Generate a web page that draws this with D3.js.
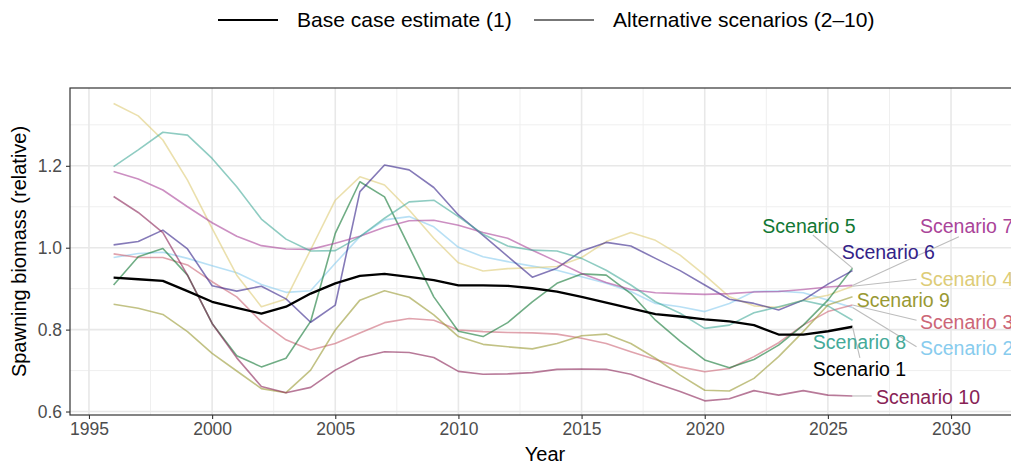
<!DOCTYPE html>
<html>
<head>
<meta charset="utf-8">
<script src="https://cdn.jsdelivr.net/npm/d3@7"></script>
<style>
  body { margin: 0; background: #fff; }
  svg { font-family: "Liberation Sans", Arial, sans-serif; }
</style>
</head>
<body>
<svg width="1011" height="467"></svg>
<script>
// years and the ten scenario runs (relative spawning biomass)
var years = [1996, 1997, 1998, 1999, 2000, 2001, 2002, 2003, 2004, 2005, 2006, 2007, 2008, 2009, 2010,
  2011, 2012, 2013, 2014, 2015, 2016, 2017, 2018, 2019, 2020, 2021, 2022, 2023, 2024, 2025, 2026];

var scen1 = [0.927, 0.923, 0.919, 0.894, 0.868, 0.853, 0.839, 0.856, 0.888, 0.913, 0.931, 0.936, 0.929, 0.921, 0.908,
  0.908, 0.907, 0.901, 0.893, 0.880, 0.866, 0.852, 0.838, 0.832, 0.825, 0.820, 0.811, 0.788, 0.788, 0.796, 0.807];
var scen2 = [0.976, 0.986, 0.989, 0.974, 0.956, 0.939, 0.910, 0.891, 0.895, 0.962, 1.027, 1.068, 1.076, 1.051, 1.001,
  0.978, 0.966, 0.955, 0.945, 0.929, 0.913, 0.893, 0.864, 0.856, 0.844, 0.864, 0.893, 0.894, 0.890, 0.872, 0.854];
var scen3 = [0.985, 0.976, 0.976, 0.958, 0.917, 0.880, 0.819, 0.775, 0.750, 0.766, 0.792, 0.817, 0.827, 0.823, 0.799,
  0.795, 0.793, 0.792, 0.789, 0.779, 0.766, 0.746, 0.727, 0.709, 0.697, 0.705, 0.734, 0.768, 0.811, 0.844, 0.860];
var scen4 = [1.352, 1.322, 1.263, 1.165, 1.047, 0.933, 0.856, 0.875, 0.995, 1.116, 1.173, 1.153, 1.092, 1.023, 0.963,
  0.943, 0.949, 0.951, 0.954, 0.976, 1.015, 1.037, 1.018, 0.982, 0.933, 0.880, 0.858, 0.854, 0.872, 0.884, 0.906];
var scen5 = [0.909, 0.978, 0.998, 0.933, 0.815, 0.736, 0.709, 0.730, 0.820, 1.035, 1.161, 1.124, 1.002, 0.880, 0.796,
  0.783, 0.817, 0.868, 0.913, 0.936, 0.933, 0.888, 0.823, 0.772, 0.726, 0.707, 0.727, 0.762, 0.811, 0.872, 0.950];
var scen6 = [1.007, 1.015, 1.043, 0.997, 0.907, 0.894, 0.906, 0.875, 0.818, 0.860, 1.137, 1.202, 1.190, 1.147, 1.080,
  1.030, 0.979, 0.928, 0.950, 0.992, 1.013, 1.004, 0.974, 0.944, 0.909, 0.874, 0.864, 0.848, 0.872, 0.911, 0.944];
var scen7 = [1.186, 1.168, 1.141, 1.100, 1.061, 1.028, 1.005, 0.997, 0.996, 1.011, 1.028, 1.050, 1.066, 1.067, 1.055,
  1.037, 1.023, 0.994, 0.966, 0.937, 0.915, 0.898, 0.890, 0.888, 0.886, 0.888, 0.892, 0.893, 0.898, 0.904, 0.908];
var scen8 = [1.198, 1.239, 1.282, 1.275, 1.218, 1.149, 1.070, 1.021, 0.992, 0.993, 1.027, 1.072, 1.112, 1.116, 1.076,
  1.033, 1.004, 0.994, 0.992, 0.974, 0.945, 0.909, 0.868, 0.840, 0.803, 0.811, 0.841, 0.856, 0.871, 0.858, 0.823];
var scen9 = [0.862, 0.852, 0.837, 0.795, 0.742, 0.699, 0.656, 0.646, 0.701, 0.799, 0.872, 0.895, 0.879, 0.836, 0.783,
  0.764, 0.758, 0.753, 0.766, 0.785, 0.789, 0.766, 0.730, 0.689, 0.652, 0.650, 0.681, 0.734, 0.795, 0.860, 0.880];
var scen10 = [1.125, 1.086, 1.037, 0.933, 0.815, 0.731, 0.661, 0.646, 0.659, 0.701, 0.732, 0.746, 0.744, 0.732, 0.698,
  0.691, 0.692, 0.695, 0.703, 0.704, 0.703, 0.691, 0.669, 0.649, 0.626, 0.631, 0.651, 0.640, 0.651, 0.640, 0.638];

var names = ['Scenario 1', 'Scenario 2', 'Scenario 3', 'Scenario 4', 'Scenario 5',
  'Scenario 6', 'Scenario 7', 'Scenario 8', 'Scenario 9', 'Scenario 10'];
var colours = ['#000000', '#88CCEE', '#CC6677', '#DDCC77', '#117733',
  '#332288', '#AA4499', '#44AA99', '#999933', '#882255'];
var allValues = [scen1, scen2, scen3, scen4, scen5, scen6, scen7, scen8, scen9, scen10];

// repelled label spots (year, value) and where the leader line stops
var labelYear = [2024.39, 2028.74, 2028.74, 2028.74, 2024.23, 2025.56, 2028.74, 2024.39, 2026.17, 2026.95];
var labelValue = [0.703, 0.754, 0.819, 0.924, 1.053, 0.988, 1.053, 0.770, 0.872, 0.636];
var labelAnchor = ['start', 'start', 'start', 'start', 'middle', 'start', 'start', 'start', 'start', 'start'];
var leaderYear = [2026.3, 2028.6, 2028.6, 2028.6, 2024.39, null, 2030.32, null, null, 2026.78];
var leaderValue = [0.731, 0.758, 0.823, 0.923, 1.031, null, 1.027, null, null, 0.638];

var xTicks = [1995, 2000, 2005, 2010, 2015, 2020, 2025, 2030];
var yTicks = [0.6, 0.8, 1.0, 1.2];

var svg = d3.select('svg');
var pLeft = 70, pTop = 88, pRight = 1020, pBottom = 415;

var x = d3.scaleLinear().domain([1994.23, 2032.8]).range([pLeft, pRight]);
var y = d3.scaleLinear().domain([0.5915, 1.390]).range([pBottom, pTop]);

// grid
var grid = svg.append('g');
var minorX = [1997.5, 2002.5, 2007.5, 2012.5, 2017.5, 2022.5, 2027.5, 2032.5];
var minorY = [0.7, 0.9, 1.1, 1.3];
grid.selectAll('.mx').data(minorX).enter().append('line')
  .attr('x1', function(d) { return x(d); }).attr('x2', function(d) { return x(d); })
  .attr('y1', pTop).attr('y2', pBottom)
  .attr('stroke', '#efefef').attr('stroke-width', 1);
grid.selectAll('.my').data(minorY).enter().append('line')
  .attr('y1', function(d) { return y(d); }).attr('y2', function(d) { return y(d); })
  .attr('x1', pLeft).attr('x2', pRight)
  .attr('stroke', '#efefef').attr('stroke-width', 1);
grid.selectAll('.gx').data(xTicks).enter().append('line')
  .attr('x1', function(d) { return x(d); }).attr('x2', function(d) { return x(d); })
  .attr('y1', pTop).attr('y2', pBottom)
  .attr('stroke', '#e8e8e8').attr('stroke-width', 1.6);
grid.selectAll('.gy').data(yTicks).enter().append('line')
  .attr('y1', function(d) { return y(d); }).attr('y2', function(d) { return y(d); })
  .attr('x1', pLeft).attr('x2', pRight)
  .attr('stroke', '#e8e8e8').attr('stroke-width', 1.6);

// lines
var line = d3.line()
  .x(function(d) { return x(d[0]); })
  .y(function(d) { return y(d[1]); });

var order = [1, 2, 3, 4, 5, 6, 7, 8, 9, 0];
svg.append('g').selectAll('path').data(order).enter().append('path')
  .attr('d', function(i) { return line(years.map(function(yr, j) { return [yr, allValues[i][j]]; })); })
  .attr('fill', 'none')
  .attr('stroke', function(i) { return colours[i]; })
  .attr('stroke-width', function(i) { return i === 0 ? 2.3 : 1.6; })
  .attr('stroke-opacity', function(i) { return i === 0 ? 1 : 0.6; })
  .attr('stroke-linejoin', 'round');

// leader segments
var last = years.length - 1;
svg.append('g').selectAll('line').data(d3.range(10).filter(function(i) { return leaderYear[i] !== null; }))
  .enter().append('line')
  .attr('x1', function(i) { return x(years[last]); })
  .attr('y1', function(i) { return y(allValues[i][last]); })
  .attr('x2', function(i) { return x(leaderYear[i]); })
  .attr('y2', function(i) { return y(leaderValue[i]); })
  .attr('stroke', '#bdbdbd').attr('stroke-width', 1.1);

// labels
svg.append('g').selectAll('text').data(d3.range(10)).enter().append('text')
  .attr('x', function(i) { return x(labelYear[i]); })
  .attr('y', function(i) { return y(labelValue[i]); })
  .attr('dy', '0.35em')
  .attr('text-anchor', function(i) { return labelAnchor[i]; })
  .attr('fill', function(i) { return colours[i]; })
  .style('font-size', '19.5px')
  .text(function(i) { return names[i]; });

// panel border
svg.append('rect')
  .attr('x', pLeft).attr('y', pTop)
  .attr('width', pRight - pLeft).attr('height', pBottom - pTop)
  .attr('fill', 'none').attr('stroke', '#333').attr('stroke-width', 1.2);

// axes
var xAxis = svg.append('g').attr('transform', 'translate(0,' + pBottom + ')')
  .call(d3.axisBottom(x).tickValues(xTicks).tickFormat(d3.format('d')).tickSize(4).tickPadding(4));
var yAxis = svg.append('g').attr('transform', 'translate(' + pLeft + ',0)')
  .call(d3.axisLeft(y).tickValues(yTicks).tickFormat(d3.format('.1f')).tickSize(4).tickPadding(4));
[xAxis, yAxis].forEach(function(a) {
  a.select('.domain').remove();
  a.selectAll('.tick line').attr('stroke', '#333').attr('stroke-width', 1.1);
  a.selectAll('.tick text').attr('fill', '#4d4d4d')
    .style('font-size', '17.5px').style('font-family', '"Liberation Sans", Arial, sans-serif');
});

// axis titles
svg.append('text')
  .attr('x', (pLeft + pRight) / 2).attr('y', 461)
  .attr('text-anchor', 'middle')
  .style('font-size', '20px')
  .text('Year');
svg.append('text')
  .attr('transform', 'translate(26,' + ((pTop + pBottom) / 2) + ') rotate(-90)')
  .attr('text-anchor', 'middle')
  .style('font-size', '20px')
  .text('Spawning biomass (relative)');

// legend
var legend = svg.append('g');
var legendItems = [
  { label: 'Base case estimate (1)', colour: '#000000', x: 218 },
  { label: 'Alternative scenarios (2\u201310)', colour: '#777777', x: 534 }
];
legend.selectAll('line').data(legendItems).enter().append('line')
  .attr('x1', function(d) { return d.x; }).attr('x2', function(d) { return d.x + 60; })
  .attr('y1', 20).attr('y2', 20)
  .attr('stroke', function(d) { return d.colour; }).attr('stroke-width', 2);
legend.selectAll('text').data(legendItems).enter().append('text')
  .attr('x', function(d) { return d.x + 79; }).attr('y', 20)
  .attr('dy', '0.35em')
  .style('font-size', '21px')
  .text(function(d) { return d.label; });
</script>
</body>
</html>
